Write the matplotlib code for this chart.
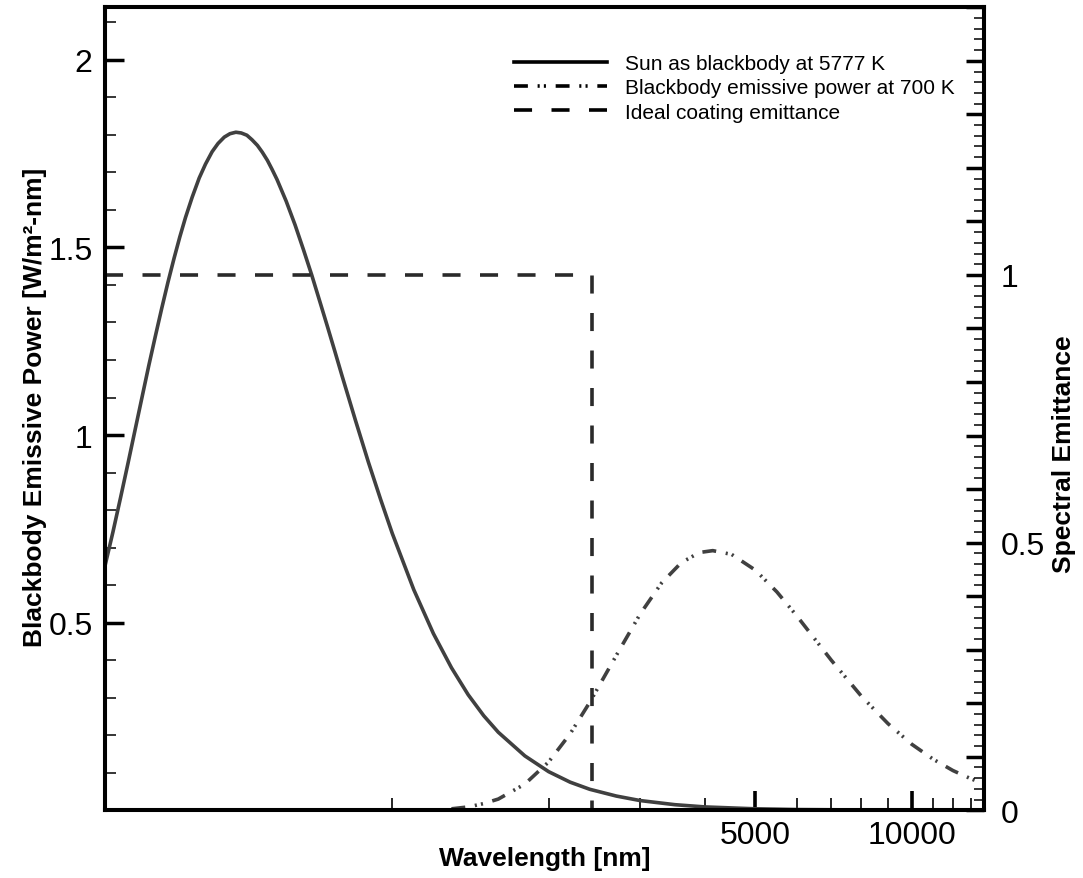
import numpy as np
import matplotlib
matplotlib.use("Agg")
import matplotlib.pyplot as plt
from matplotlib.ticker import MultipleLocator, NullFormatter

plt.rcParams['font.family'] = ['Liberation Sans', 'DejaVu Sans']
plt.rcParams['lines.scale_dashes'] = False

# sun as blackbody at 5777 K (wavelength nm, W/m2-nm)
sun_wl = [280, 290, 300, 310, 320, 330, 340, 350, 360, 370, 380, 390, 400, 412,
          425, 437, 450, 462, 475, 487, 500, 512, 525, 537, 550, 562, 575, 587,
          600, 625, 650, 675, 700, 725, 750, 775, 800, 850, 900, 950, 1000, 1100,
          1200, 1300, 1400, 1500, 1600, 1800, 2000, 2200, 2400, 2700, 3000, 3500,
          4000, 5000, 6000, 8000, 10000, 13800]
sun_val = [0.652, 0.742, 0.834, 0.925, 1.015, 1.102, 1.186, 1.264, 1.338, 1.407,
           1.470, 1.528, 1.580, 1.634, 1.685, 1.722, 1.755, 1.777, 1.794, 1.803,
           1.807, 1.805, 1.799, 1.787, 1.772, 1.754, 1.732, 1.708, 1.681, 1.623,
           1.560, 1.493, 1.426, 1.357, 1.290, 1.224, 1.159, 1.038, 0.927, 0.828,
           0.738, 0.588, 0.471, 0.380, 0.308, 0.252, 0.208, 0.145, 0.103, 0.075,
           0.056, 0.038, 0.026, 0.015, 0.009, 0.004, 0.002, 0.001, 0.0003, 0.0001]

# blackbody emissive power at 700 K
bb_wl = [1300, 1400, 1500, 1600, 1800, 2000, 2200, 2400, 2700, 3000, 3300, 3600,
         3900, 4140, 4500, 5000, 5500, 6000, 7000, 8000, 9000, 10000, 11000,
         12000, 13000, 13800]
bb_val = [0.004, 0.009, 0.018, 0.030, 0.070, 0.129, 0.204, 0.288, 0.413, 0.523,
          0.606, 0.660, 0.687, 0.692, 0.682, 0.640, 0.582, 0.519, 0.400, 0.304,
          0.231, 0.176, 0.136, 0.106, 0.084, 0.070]

# ideal coating: emittance 1 below cutoff, 0 above
coat_wl = [280, 2424, 2424]
coat_eps = [1, 1, 0]

labels = ['Sun as blackbody at 5777 K', 'Blackbody emissive power at 700 K',
          'Ideal coating emittance']

fig = plt.figure(figsize=(10.83, 8.79), dpi=100)
ax = fig.add_axes([0.097, 0.077, 0.812, 0.9136])
ax2 = ax.twinx()

l1, = ax.plot(sun_wl, sun_val, color='#404040', lw=2.6, label=labels[0])
l2, = ax.plot(bb_wl, bb_val, color='#404040', lw=2.6,
              linestyle=(0, (10, 7, 1.5, 3, 1.5, 7)), label=labels[1])
l3, = ax2.plot(coat_wl, coat_eps, color='#2a2a2a', lw=2.6,
               linestyle=(0, (13, 14)), label=labels[2])

ax.set_xscale('log')
ax.set_xlim(280, 13800)
ax.set_ylim(0, 2.14)
ax2.set_ylim(0, 1.5)

ax.set_xticks([5000, 10000], labels=['5000', '10000'])
ax.set_xticks([1000, 2000, 3000, 4000, 6000, 7000, 8000, 9000, 11000, 12000, 13000],
              minor=True)
ax.xaxis.set_minor_formatter(NullFormatter())

ax.set_yticks([0.5, 1, 1.5, 2], labels=['0.5', '1', '1.5', '2'])
ax.yaxis.set_minor_locator(MultipleLocator(0.1))

rt = np.round(np.arange(0, 1.51, 0.1), 2)
ax2.set_yticks(rt, labels=[('%g' % v) if v in (0, 0.5, 1) else '' for v in rt])
ax2.yaxis.set_minor_locator(MultipleLocator(0.02))

ax.tick_params(axis='x', which='major', direction='in', length=14, width=2.6,
               labelsize=23, pad=7, top=False)
ax.tick_params(axis='x', which='minor', direction='in', length=9, width=1.2, top=False)
ax.tick_params(axis='y', which='major', direction='in', length=14, width=2.5,
               labelsize=23, pad=9, right=False)
ax.tick_params(axis='y', which='minor', direction='in', length=8, width=1.1, right=False)
ax2.tick_params(axis='y', which='major', direction='in', length=13, width=2.5,
                labelsize=23, pad=12)
ax2.tick_params(axis='y', which='minor', direction='in', length=7, width=1.1)

for a in (ax, ax2):
    for s in a.spines.values():
        s.set_linewidth(2.9)

lab_font = dict(family=['Liberation Sans'], weight='bold', size=19)
ax.set_xlabel('Wavelength [nm]', fontdict=lab_font)
ax.xaxis.set_label_coords(0.5, -0.044)
ax.set_ylabel('Blackbody Emissive Power [W/m²-nm]', fontdict=lab_font)
ax.yaxis.set_label_coords(-0.066, 0.503)
ax2.set_ylabel('Spectral Emittance', fontdict=lab_font, rotation=90)
ax2.yaxis.set_label_coords(1.077, 0.445)

leg = ax2.legend([l1, l2, l3], labels, loc='upper left',
                 bbox_to_anchor=(0.455, 0.952), frameon=False, fontsize=15,
                 handlelength=4.5, handletextpad=0.85, labelspacing=0.25,
                 borderaxespad=0)
for ln in leg.get_lines():
    ln.set_color('black')
    ln.set_linewidth(2.6)

fig.savefig('out.png', dpi=100)
